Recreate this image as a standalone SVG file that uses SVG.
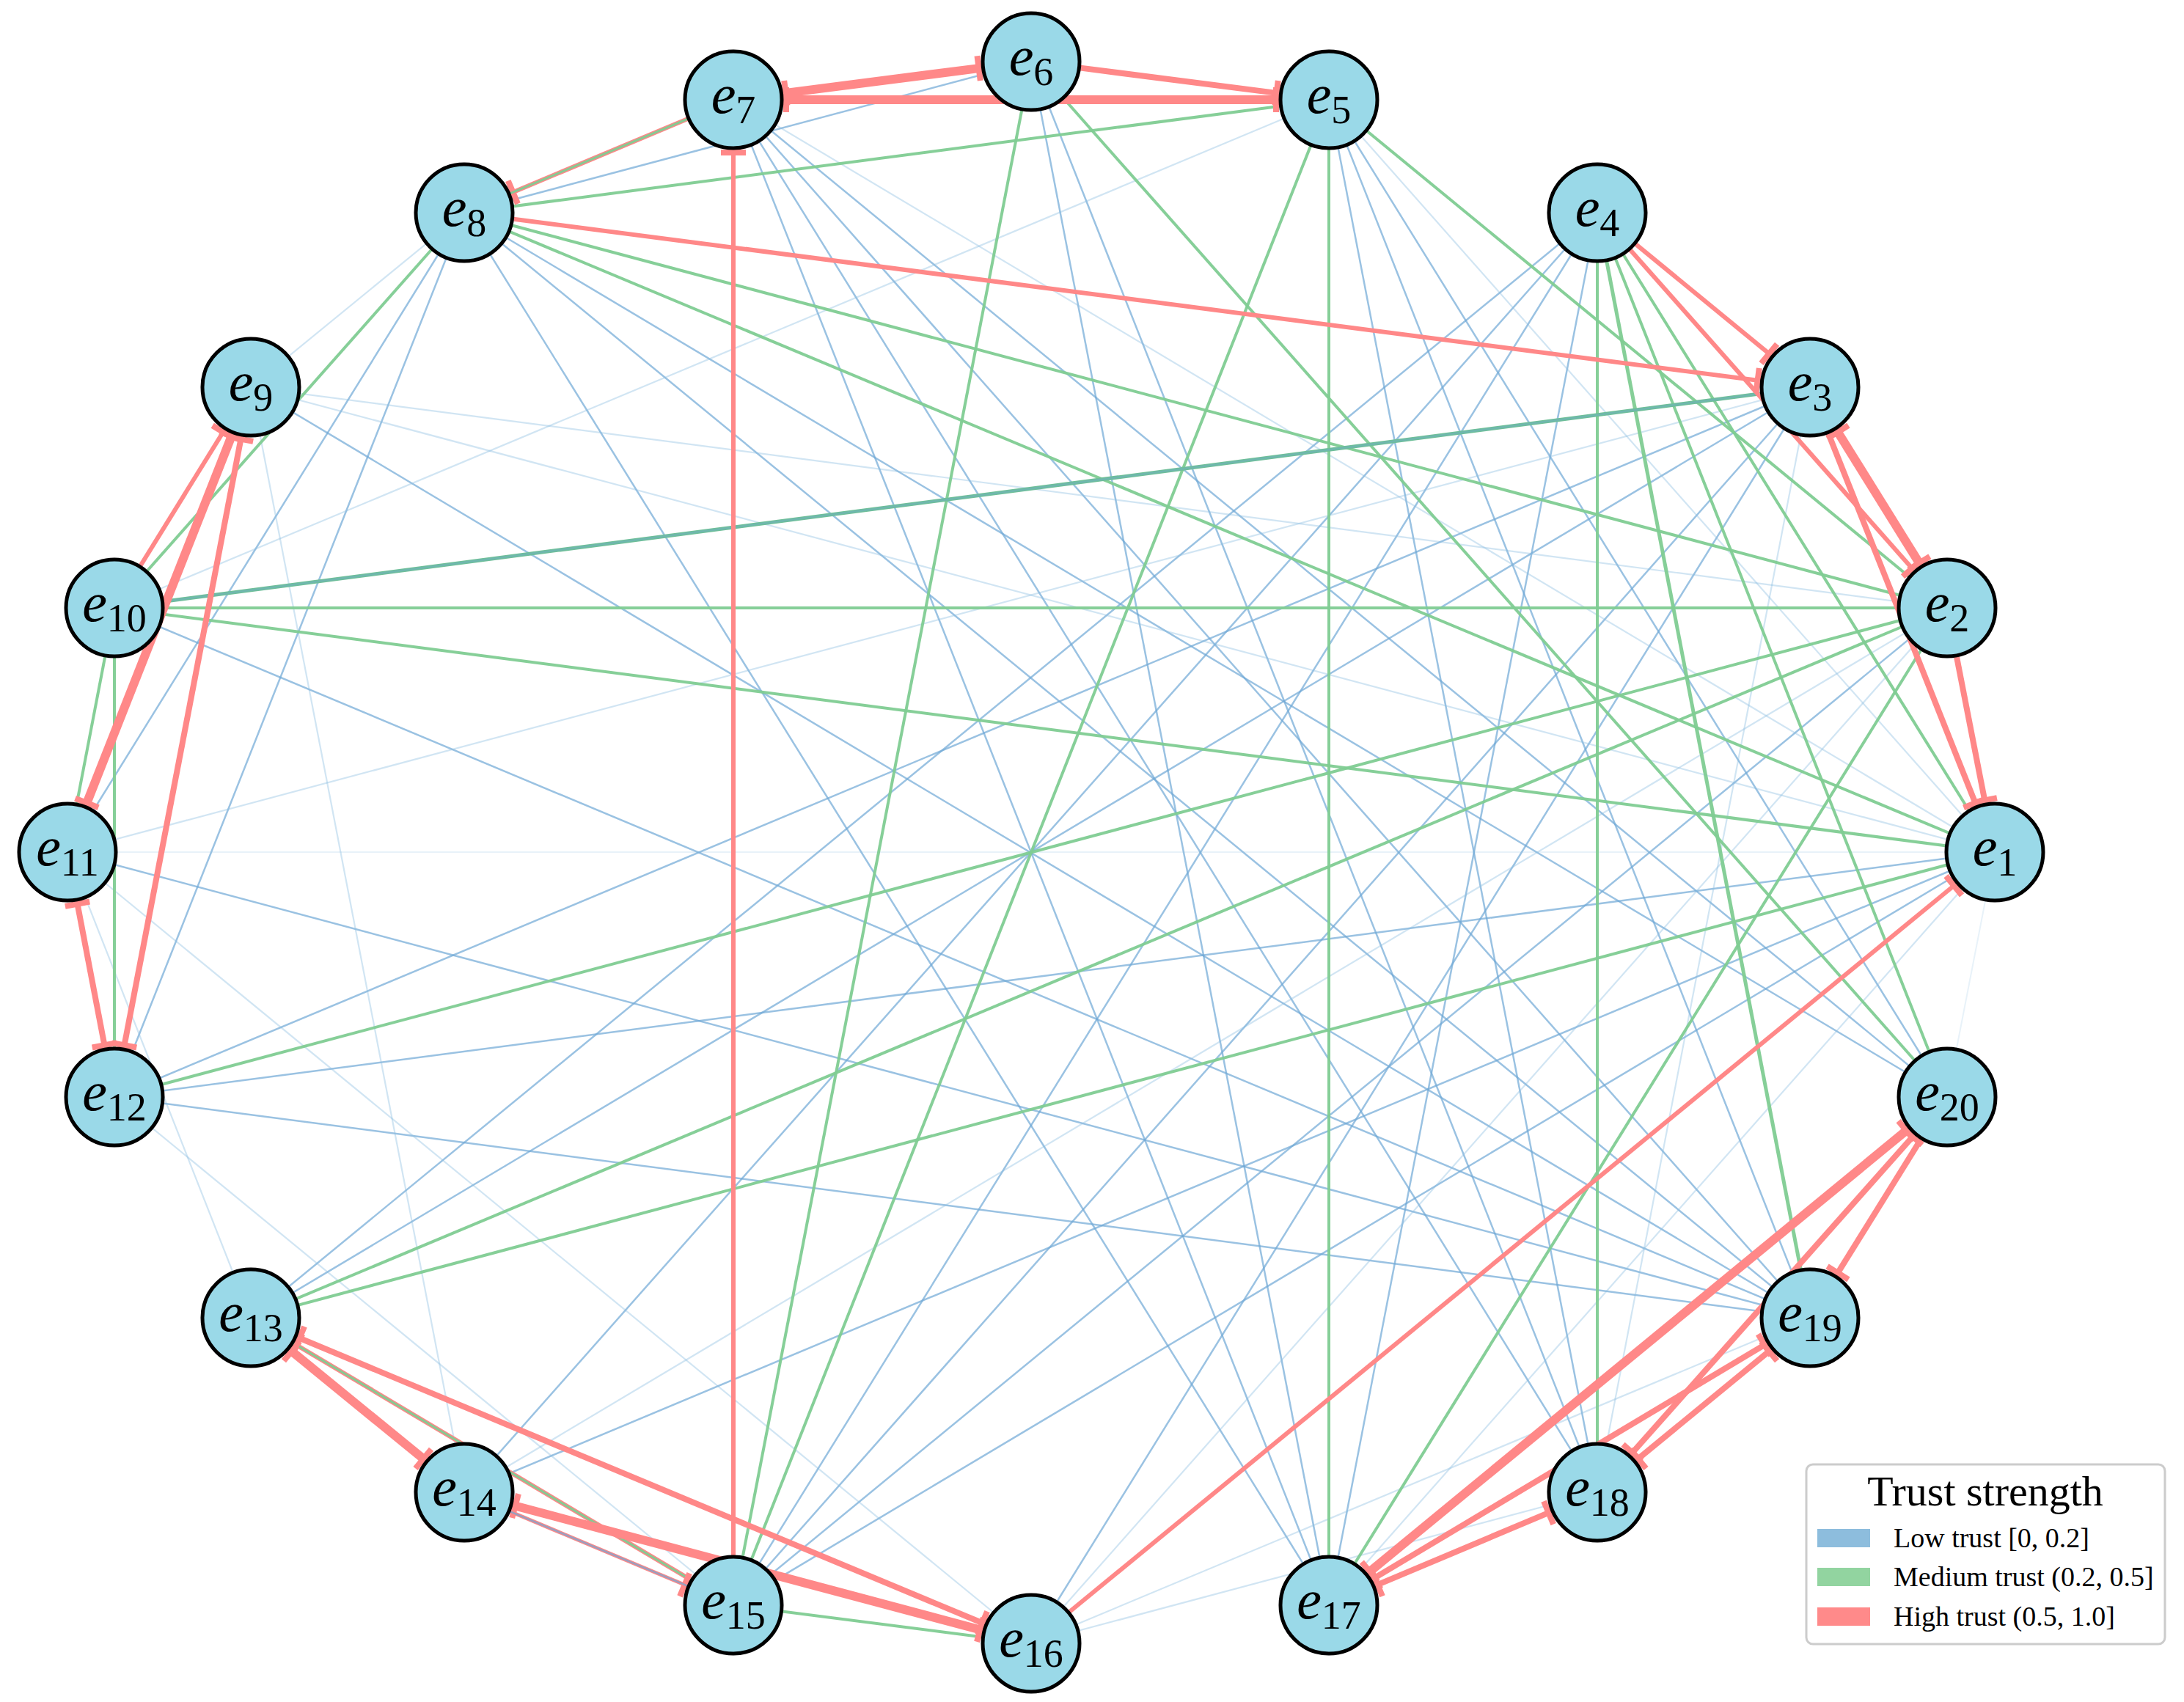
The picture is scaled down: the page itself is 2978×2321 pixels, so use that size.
<svg xmlns="http://www.w3.org/2000/svg" width="2978" height="2321" viewBox="0 0 2978 2321">
<style>
.b{stroke:#6fa8d6;stroke-width:2.5;stroke-opacity:0.7}
.bf{stroke:#8dbde0;stroke-width:2.2;stroke-opacity:0.4}
.bvf{stroke:#8dbde0;stroke-width:2;stroke-opacity:0.2}
.g{stroke:#80cc92;stroke-width:4;stroke-opacity:0.95}
.gt{stroke:#6fbf99;stroke-width:5}
.r{stroke:#ff8888;fill:none}
.rk{stroke-width:12}
.rm{stroke-width:8}
.rt{stroke-width:6}
.te{marker-end:url(#tee)}
.ts{marker-start:url(#tee)}
.node circle{fill:#9ad9e8;stroke:#000;stroke-width:5}
.lbl{font-family:"Liberation Serif","Times New Roman",serif;text-anchor:middle;fill:#000}
.e{font-style:italic;font-size:76px}
.sub{font-size:54px}
.leg{font-family:"Liberation Serif","Times New Roman",serif;fill:#000}
</style>
<defs>
<marker id="tee" viewBox="-10 -20 12 40" refX="0" refY="0" markerWidth="12" markerHeight="40" markerUnits="userSpaceOnUse" orient="auto-start-reverse">
<path d="M-8,-17H0V17H-8Z" fill="#ff8888"/>
</marker>
</defs>
<rect width="2978" height="2321" fill="#fff"/>
<g id="edges">
<g id="low">
<line class="b" x1="1406" y1="84" x2="1812" y2="2189"/>
<line class="b" x1="1406" y1="84" x2="2178" y2="2035"/>
<line class="b" x1="1406" y1="84" x2="633" y2="290"/>
<line class="b" x1="1000" y1="136" x2="1812" y2="2189"/>
<line class="b" x1="1000" y1="136" x2="2178" y2="2035"/>
<line class="b" x1="1000" y1="136" x2="2468" y2="1797"/>
<line class="b" x1="1000" y1="136" x2="2655" y2="1496"/>
<line class="b" x1="1812" y1="136" x2="2178" y2="2035"/>
<line class="b" x1="1812" y1="136" x2="2468" y2="1797"/>
<line class="b" x1="1812" y1="136" x2="2655" y2="1496"/>
<line class="b" x1="633" y1="290" x2="2655" y2="1496"/>
<line class="b" x1="633" y1="290" x2="2468" y2="1797"/>
<line class="b" x1="633" y1="290" x2="1812" y2="2189"/>
<line class="b" x1="633" y1="290" x2="156" y2="1496"/>
<line class="b" x1="633" y1="290" x2="92" y2="1162"/>
<line class="b" x1="2178" y1="290" x2="342" y2="1797"/>
<line class="b" x1="2178" y1="290" x2="633" y2="2035"/>
<line class="b" x1="2178" y1="290" x2="1000" y2="2189"/>
<line class="b" x1="2178" y1="290" x2="1812" y2="2189"/>
<line class="b" x1="2468" y1="528" x2="156" y2="1496"/>
<line class="b" x1="2468" y1="528" x2="342" y2="1797"/>
<line class="b" x1="2468" y1="528" x2="1000" y2="2189"/>
<line class="b" x1="2468" y1="528" x2="1406" y2="2241"/>
<line class="b" x1="2655" y1="829" x2="1000" y2="2189"/>
<line class="b" x1="2720" y1="1162" x2="156" y2="1496"/>
<line class="b" x1="2720" y1="1162" x2="633" y2="2035"/>
<line class="b" x1="2720" y1="1162" x2="1000" y2="2189"/>
<line class="b" x1="156" y1="829" x2="2468" y2="1797"/>
<line class="b" x1="92" y1="1162" x2="2468" y2="1797"/>
<line class="b" x1="156" y1="1496" x2="2468" y2="1797"/>
<line class="b" x1="342" y1="528" x2="2468" y2="1797"/>
<line class="bf" x1="1812" y1="136" x2="156" y2="829"/>
<line class="bf" x1="1000" y1="136" x2="2720" y2="1162"/>
<line class="bf" x1="1812" y1="136" x2="2720" y2="1162"/>
<line class="bf" x1="633" y1="290" x2="342" y2="528"/>
<line class="bf" x1="2468" y1="528" x2="92" y2="1162"/>
<line class="bf" x1="2468" y1="528" x2="2178" y2="2035"/>
<line class="bf" x1="2655" y1="829" x2="342" y2="528"/>
<line class="bf" x1="2655" y1="829" x2="633" y2="2035"/>
<line class="bf" x1="2655" y1="829" x2="1406" y2="2241"/>
<line class="bf" x1="2720" y1="1162" x2="1812" y2="2189"/>
<line class="bf" x1="342" y1="528" x2="633" y2="2035"/>
<line class="bf" x1="92" y1="1162" x2="1406" y2="2241"/>
<line class="bf" x1="92" y1="1162" x2="342" y2="1797"/>
<line class="bf" x1="156" y1="1496" x2="1000" y2="2189"/>
<line class="bf" x1="1406" y1="2241" x2="2468" y2="1797"/>
<line class="bf" x1="1406" y1="2241" x2="2178" y2="2035"/>
<line class="bf" x1="342" y1="528" x2="2720" y2="1162"/>
<line class="bvf" x1="2720" y1="1162" x2="2655" y2="1496"/>
<line class="bvf" x1="92" y1="1162" x2="2720" y2="1162"/>
</g>
<g id="medium">
<line class="g" x1="1406" y1="84" x2="1000" y2="2189"/>
<line class="g" x1="1812" y1="136" x2="1000" y2="2189"/>
<line class="g" x1="1812" y1="136" x2="1812" y2="2189"/>
<line class="g" x1="1406" y1="84" x2="2655" y2="1496"/>
<line class="g" x1="1812" y1="136" x2="2655" y2="829"/>
<line class="g" x1="633" y1="290" x2="1812" y2="136"/>
<line class="g" x1="633" y1="290" x2="2655" y2="829"/>
<line class="g" x1="633" y1="290" x2="2720" y2="1162"/>
<line class="g" x1="633" y1="290" x2="156" y2="829"/>
<line class="g" x1="2178" y1="290" x2="2178" y2="2035"/>
<line class="g" x1="2178" y1="290" x2="2468" y2="1797" style="stroke-width:5"/>
<line class="g" x1="2178" y1="290" x2="2655" y2="1496"/>
<line class="g" x1="2178" y1="290" x2="2720" y2="1162"/>
<line class="g" x1="2655" y1="829" x2="156" y2="829"/>
<line class="g" x1="2655" y1="829" x2="156" y2="1496"/>
<line class="g" x1="2655" y1="829" x2="342" y2="1797"/>
<line class="g" x1="2655" y1="829" x2="1812" y2="2189"/>
<line class="g" x1="156" y1="829" x2="2720" y2="1162"/>
<line class="g" x1="342" y1="1797" x2="2720" y2="1162"/>
<line class="g" x1="156" y1="829" x2="92" y2="1162"/>
<line class="g" x1="156" y1="829" x2="156" y2="1496"/>
<line class="g" x1="1000" y1="2189" x2="1406" y2="2241"/>
<line class="gt" x1="2468" y1="528" x2="156" y2="829"/>
<line class="b" x1="2468" y1="528" x2="156" y2="829" style="stroke-opacity:0.35"/>
</g>
<g id="high">
<line class="r rk te ts" x1="1338.6" y1="92.6" x2="1067.4" y2="127.4"/>
<line class="r rk te ts" x1="1744" y1="136" x2="1068" y2="136"/>
<line class="r rm te" x1="1473.4" y1="92.6" x2="1744.6" y2="127.4"/>
<line class="r rt te" x1="1000" y1="2121" x2="1000" y2="204"/>
<line class="r rt te" x1="700.4" y1="298.7" x2="2400.6" y2="519.3"/>
<line class="r rt te" x1="937.3" y1="162.3" x2="695.7" y2="263.7"/>
<line class="g" x1="1000" y1="136" x2="633" y2="290" style="stroke-width:3"/>
<line class="r rt te" x1="2230.6" y1="333.1" x2="2415.4" y2="484.9"/>
<line class="r rt te" x1="2223.1" y1="340.9" x2="2609.9" y2="778.1"/>
<line class="r rk te ts" x1="2503.9" y1="585.8" x2="2619.1" y2="771.2"/>
<line class="r rm te" x1="2493.1" y1="591.2" x2="2694.9" y2="1098.8"/>
<line class="r rm te" x1="2668" y1="895.7" x2="2707" y2="1095.3"/>
<line class="r rt te" x1="1458.6" y1="2197.8" x2="2667.4" y2="1205.2"/>
<line class="r rt te" x1="191.7" y1="771.2" x2="306.3" y2="585.8"/>
<line class="r rk te ts" x1="317.1" y1="591.3" x2="116.9" y2="1098.7"/>
<line class="r rm te ts" x1="329.2" y1="594.8" x2="168.8" y2="1429.2"/>
<line class="r rm te ts" x1="104.8" y1="1228.8" x2="143.2" y2="1429.2"/>
<line class="r rk te ts" x1="394.6" y1="1840.1" x2="580.4" y2="1991.9"/>
<line class="r rt te" x1="941.6" y1="2154.2" x2="400.4" y2="1831.8"/>
<line class="g" x1="1000" y1="2189" x2="342" y2="1797" style="stroke-width:3"/>
<line class="r rm te ts" x1="404.8" y1="1823.2" x2="1343.2" y2="2214.8"/>
<line class="r rk te ts" x1="698.7" y1="2052.5" x2="1340.3" y2="2223.5"/>
<line class="r te" x1="695.7" y1="2061.3" x2="937.3" y2="2162.7" style="stroke-width:5"/>
<line class="b" x1="695.7" y1="2061.3" x2="937.3" y2="2162.7"/>
<line class="r rk te ts" x1="2602.5" y1="1539.2" x2="1864.5" y2="2145.8"/>
<line class="r rm te" x1="2619.1" y1="1553.8" x2="2503.9" y2="1739.2"/>
<line class="r rm te ts" x1="2610.9" y1="1546.9" x2="2223.1" y2="1984.1"/>
<line class="r rm te ts" x1="2415.4" y1="1840.1" x2="2230.6" y2="1991.9"/>
<line class="r rm te ts" x1="1870.4" y1="2154.1" x2="2409.6" y2="1831.9"/>
<line class="r rm te ts" x1="1874.7" y1="2162.6" x2="2115.3" y2="2061.4"/>
</g>
</g>
<g id="nodes">
<g id="node-e1" class="node"><circle cx="2720" cy="1162" r="66"/><text class="lbl" x="2720" y="1180"><tspan class="e">e</tspan><tspan class="sub" dy="14">1</tspan></text></g>
<g id="node-e2" class="node"><circle cx="2655" cy="829" r="66"/><text class="lbl" x="2655" y="847"><tspan class="e">e</tspan><tspan class="sub" dy="14">2</tspan></text></g>
<g id="node-e3" class="node"><circle cx="2468" cy="528" r="66"/><text class="lbl" x="2468" y="546"><tspan class="e">e</tspan><tspan class="sub" dy="14">3</tspan></text></g>
<g id="node-e4" class="node"><circle cx="2178" cy="290" r="66"/><text class="lbl" x="2178" y="308"><tspan class="e">e</tspan><tspan class="sub" dy="14">4</tspan></text></g>
<g id="node-e5" class="node"><circle cx="1812" cy="136" r="66"/><text class="lbl" x="1812" y="154"><tspan class="e">e</tspan><tspan class="sub" dy="14">5</tspan></text></g>
<g id="node-e6" class="node"><circle cx="1406" cy="84" r="66"/><text class="lbl" x="1406" y="102"><tspan class="e">e</tspan><tspan class="sub" dy="14">6</tspan></text></g>
<g id="node-e7" class="node"><circle cx="1000" cy="136" r="66"/><text class="lbl" x="1000" y="154"><tspan class="e">e</tspan><tspan class="sub" dy="14">7</tspan></text></g>
<g id="node-e8" class="node"><circle cx="633" cy="290" r="66"/><text class="lbl" x="633" y="308"><tspan class="e">e</tspan><tspan class="sub" dy="14">8</tspan></text></g>
<g id="node-e9" class="node"><circle cx="342" cy="528" r="66"/><text class="lbl" x="342" y="546"><tspan class="e">e</tspan><tspan class="sub" dy="14">9</tspan></text></g>
<g id="node-e10" class="node"><circle cx="156" cy="829" r="66"/><text class="lbl" x="156" y="847"><tspan class="e">e</tspan><tspan class="sub" dy="14">10</tspan></text></g>
<g id="node-e11" class="node"><circle cx="92" cy="1162" r="66"/><text class="lbl" x="92" y="1180"><tspan class="e">e</tspan><tspan class="sub" dy="14">11</tspan></text></g>
<g id="node-e12" class="node"><circle cx="156" cy="1496" r="66"/><text class="lbl" x="156" y="1514"><tspan class="e">e</tspan><tspan class="sub" dy="14">12</tspan></text></g>
<g id="node-e13" class="node"><circle cx="342" cy="1797" r="66"/><text class="lbl" x="342" y="1815"><tspan class="e">e</tspan><tspan class="sub" dy="14">13</tspan></text></g>
<g id="node-e14" class="node"><circle cx="633" cy="2035" r="66"/><text class="lbl" x="633" y="2053"><tspan class="e">e</tspan><tspan class="sub" dy="14">14</tspan></text></g>
<g id="node-e15" class="node"><circle cx="1000" cy="2189" r="66"/><text class="lbl" x="1000" y="2207"><tspan class="e">e</tspan><tspan class="sub" dy="14">15</tspan></text></g>
<g id="node-e16" class="node"><circle cx="1406" cy="2241" r="66"/><text class="lbl" x="1406" y="2259"><tspan class="e">e</tspan><tspan class="sub" dy="14">16</tspan></text></g>
<g id="node-e17" class="node"><circle cx="1812" cy="2189" r="66"/><text class="lbl" x="1812" y="2207"><tspan class="e">e</tspan><tspan class="sub" dy="14">17</tspan></text></g>
<g id="node-e18" class="node"><circle cx="2178" cy="2035" r="66"/><text class="lbl" x="2178" y="2053"><tspan class="e">e</tspan><tspan class="sub" dy="14">18</tspan></text></g>
<g id="node-e19" class="node"><circle cx="2468" cy="1797" r="66"/><text class="lbl" x="2468" y="1815"><tspan class="e">e</tspan><tspan class="sub" dy="14">19</tspan></text></g>
<g id="node-e20" class="node"><circle cx="2655" cy="1496" r="66"/><text class="lbl" x="2655" y="1514"><tspan class="e">e</tspan><tspan class="sub" dy="14">20</tspan></text></g>
</g>
<g id="legend">
<rect x="2463" y="1997" width="489" height="245" rx="9" fill="#fff" stroke="#cccccc" stroke-width="3"/>
<text class="leg" x="2707" y="2053" font-size="58" text-anchor="middle">Trust strength</text>
<rect x="2478" y="2085" width="72" height="25" fill="#8dbddd"/>
<text class="leg" x="2582" y="2110" font-size="38">Low trust [0, 0.2]</text>
<rect x="2478" y="2138" width="72" height="25" fill="#92d4a0"/>
<text class="leg" x="2582" y="2163" font-size="38">Medium trust (0.2, 0.5]</text>
<rect x="2478" y="2192" width="72" height="25" fill="#ff8a8a"/>
<text class="leg" x="2582" y="2217" font-size="38">High trust (0.5, 1.0]</text>
</g>
</svg>
